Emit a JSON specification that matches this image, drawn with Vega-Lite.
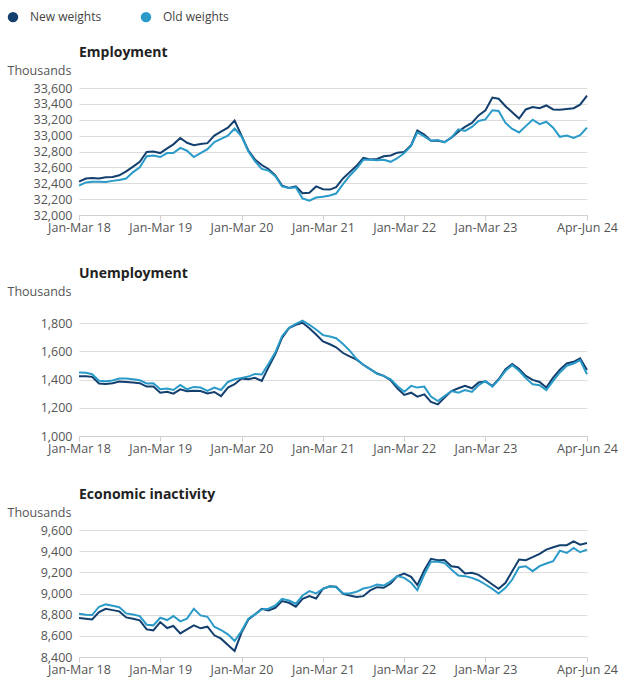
{
  "$schema": "https://vega.github.io/schema/vega-lite/v6.json",
  "padding": {"left": 7, "top": 11, "right": 5, "bottom": 5},
  "datasets": {
    "employment": [
      {"date":"2018-01-01","New weights":32420,"Old weights":32370},
      {"date":"2018-02-01","New weights":32460,"Old weights":32410},
      {"date":"2018-03-01","New weights":32465,"Old weights":32420},
      {"date":"2018-04-01","New weights":32460,"Old weights":32420},
      {"date":"2018-05-01","New weights":32475,"Old weights":32415},
      {"date":"2018-06-01","New weights":32480,"Old weights":32430},
      {"date":"2018-07-01","New weights":32500,"Old weights":32440},
      {"date":"2018-08-01","New weights":32550,"Old weights":32460},
      {"date":"2018-09-01","New weights":32610,"Old weights":32540},
      {"date":"2018-10-01","New weights":32670,"Old weights":32600},
      {"date":"2018-11-01","New weights":32795,"Old weights":32740},
      {"date":"2018-12-01","New weights":32800,"Old weights":32750},
      {"date":"2019-01-01","New weights":32780,"Old weights":32730},
      {"date":"2019-02-01","New weights":32840,"Old weights":32780},
      {"date":"2019-03-01","New weights":32890,"Old weights":32780},
      {"date":"2019-04-01","New weights":32970,"Old weights":32845},
      {"date":"2019-05-01","New weights":32910,"Old weights":32810},
      {"date":"2019-06-01","New weights":32880,"Old weights":32730},
      {"date":"2019-07-01","New weights":32895,"Old weights":32780},
      {"date":"2019-08-01","New weights":32905,"Old weights":32830},
      {"date":"2019-09-01","New weights":33000,"Old weights":32920},
      {"date":"2019-10-01","New weights":33050,"Old weights":32960},
      {"date":"2019-11-01","New weights":33100,"Old weights":33000},
      {"date":"2019-12-01","New weights":33190,"Old weights":33090},
      {"date":"2020-01-01","New weights":33000,"Old weights":32990},
      {"date":"2020-02-01","New weights":32810,"Old weights":32800},
      {"date":"2020-03-01","New weights":32700,"Old weights":32680},
      {"date":"2020-04-01","New weights":32630,"Old weights":32580},
      {"date":"2020-05-01","New weights":32580,"Old weights":32560},
      {"date":"2020-06-01","New weights":32500,"Old weights":32490},
      {"date":"2020-07-01","New weights":32370,"Old weights":32360},
      {"date":"2020-08-01","New weights":32340,"Old weights":32340},
      {"date":"2020-09-01","New weights":32360,"Old weights":32350},
      {"date":"2020-10-01","New weights":32275,"Old weights":32210},
      {"date":"2020-11-01","New weights":32280,"Old weights":32180},
      {"date":"2020-12-01","New weights":32360,"Old weights":32220},
      {"date":"2021-01-01","New weights":32325,"Old weights":32230},
      {"date":"2021-02-01","New weights":32320,"Old weights":32245},
      {"date":"2021-03-01","New weights":32350,"Old weights":32270},
      {"date":"2021-04-01","New weights":32460,"Old weights":32390},
      {"date":"2021-05-01","New weights":32540,"Old weights":32495},
      {"date":"2021-06-01","New weights":32620,"Old weights":32585},
      {"date":"2021-07-01","New weights":32720,"Old weights":32695},
      {"date":"2021-08-01","New weights":32700,"Old weights":32695},
      {"date":"2021-09-01","New weights":32705,"Old weights":32690},
      {"date":"2021-10-01","New weights":32740,"Old weights":32695},
      {"date":"2021-11-01","New weights":32750,"Old weights":32670},
      {"date":"2021-12-01","New weights":32785,"Old weights":32715},
      {"date":"2022-01-01","New weights":32795,"Old weights":32780},
      {"date":"2022-02-01","New weights":32880,"Old weights":32870},
      {"date":"2022-03-01","New weights":33065,"Old weights":33040},
      {"date":"2022-04-01","New weights":33015,"Old weights":32990},
      {"date":"2022-05-01","New weights":32935,"Old weights":32935},
      {"date":"2022-06-01","New weights":32935,"Old weights":32945},
      {"date":"2022-07-01","New weights":32920,"Old weights":32915},
      {"date":"2022-08-01","New weights":32975,"Old weights":32975},
      {"date":"2022-09-01","New weights":33050,"Old weights":33080},
      {"date":"2022-10-01","New weights":33110,"Old weights":33060},
      {"date":"2022-11-01","New weights":33160,"Old weights":33110},
      {"date":"2022-12-01","New weights":33255,"Old weights":33185},
      {"date":"2023-01-01","New weights":33320,"Old weights":33205},
      {"date":"2023-02-01","New weights":33480,"Old weights":33320},
      {"date":"2023-03-01","New weights":33465,"Old weights":33310},
      {"date":"2023-04-01","New weights":33370,"Old weights":33160},
      {"date":"2023-05-01","New weights":33295,"Old weights":33085},
      {"date":"2023-06-01","New weights":33215,"Old weights":33040},
      {"date":"2023-07-01","New weights":33330,"Old weights":33120},
      {"date":"2023-08-01","New weights":33360,"Old weights":33200},
      {"date":"2023-09-01","New weights":33345,"Old weights":33145},
      {"date":"2023-10-01","New weights":33380,"Old weights":33175},
      {"date":"2023-11-01","New weights":33330,"Old weights":33100},
      {"date":"2023-12-01","New weights":33325,"Old weights":32985},
      {"date":"2024-01-01","New weights":33335,"Old weights":33000},
      {"date":"2024-02-01","New weights":33345,"Old weights":32970},
      {"date":"2024-03-01","New weights":33390,"Old weights":33005},
      {"date":"2024-04-01","New weights":33505,"Old weights":33100}
    ],
    "unemployment": [
      {"date":"2018-01-01","New weights":1424,"Old weights":1450},
      {"date":"2018-02-01","New weights":1424,"Old weights":1448},
      {"date":"2018-03-01","New weights":1419,"Old weights":1438},
      {"date":"2018-04-01","New weights":1372,"Old weights":1391},
      {"date":"2018-05-01","New weights":1369,"Old weights":1388},
      {"date":"2018-06-01","New weights":1374,"Old weights":1393},
      {"date":"2018-07-01","New weights":1386,"Old weights":1407},
      {"date":"2018-08-01","New weights":1383,"Old weights":1407},
      {"date":"2018-09-01","New weights":1379,"Old weights":1402},
      {"date":"2018-10-01","New weights":1374,"Old weights":1395},
      {"date":"2018-11-01","New weights":1350,"Old weights":1372},
      {"date":"2018-12-01","New weights":1350,"Old weights":1374},
      {"date":"2019-01-01","New weights":1307,"Old weights":1331},
      {"date":"2019-02-01","New weights":1314,"Old weights":1336},
      {"date":"2019-03-01","New weights":1300,"Old weights":1326},
      {"date":"2019-04-01","New weights":1331,"Old weights":1362},
      {"date":"2019-05-01","New weights":1317,"Old weights":1331},
      {"date":"2019-06-01","New weights":1321,"Old weights":1348},
      {"date":"2019-07-01","New weights":1319,"Old weights":1343},
      {"date":"2019-08-01","New weights":1302,"Old weights":1319},
      {"date":"2019-09-01","New weights":1312,"Old weights":1343},
      {"date":"2019-10-01","New weights":1283,"Old weights":1326},
      {"date":"2019-11-01","New weights":1343,"Old weights":1383},
      {"date":"2019-12-01","New weights":1367,"Old weights":1402},
      {"date":"2020-01-01","New weights":1407,"Old weights":1412},
      {"date":"2020-02-01","New weights":1403,"Old weights":1421},
      {"date":"2020-03-01","New weights":1412,"Old weights":1440},
      {"date":"2020-04-01","New weights":1390,"Old weights":1436},
      {"date":"2020-05-01","New weights":1486,"Old weights":1510},
      {"date":"2020-06-01","New weights":1581,"Old weights":1593},
      {"date":"2020-07-01","New weights":1695,"Old weights":1707},
      {"date":"2020-08-01","New weights":1764,"Old weights":1767},
      {"date":"2020-09-01","New weights":1788,"Old weights":1795},
      {"date":"2020-10-01","New weights":1802,"Old weights":1817},
      {"date":"2020-11-01","New weights":1764,"Old weights":1788},
      {"date":"2020-12-01","New weights":1719,"Old weights":1755},
      {"date":"2021-01-01","New weights":1670,"Old weights":1715},
      {"date":"2021-02-01","New weights":1650,"Old weights":1705},
      {"date":"2021-03-01","New weights":1629,"Old weights":1693},
      {"date":"2021-04-01","New weights":1588,"Old weights":1652},
      {"date":"2021-05-01","New weights":1564,"Old weights":1605},
      {"date":"2021-06-01","New weights":1541,"Old weights":1545},
      {"date":"2021-07-01","New weights":1505,"Old weights":1505},
      {"date":"2021-08-01","New weights":1474,"Old weights":1474},
      {"date":"2021-09-01","New weights":1443,"Old weights":1440},
      {"date":"2021-10-01","New weights":1426,"Old weights":1426},
      {"date":"2021-11-01","New weights":1395,"Old weights":1402},
      {"date":"2021-12-01","New weights":1338,"Old weights":1355},
      {"date":"2022-01-01","New weights":1291,"Old weights":1314},
      {"date":"2022-02-01","New weights":1307,"Old weights":1355},
      {"date":"2022-03-01","New weights":1279,"Old weights":1343},
      {"date":"2022-04-01","New weights":1295,"Old weights":1350},
      {"date":"2022-05-01","New weights":1241,"Old weights":1279},
      {"date":"2022-06-01","New weights":1224,"Old weights":1248},
      {"date":"2022-07-01","New weights":1272,"Old weights":1283},
      {"date":"2022-08-01","New weights":1319,"Old weights":1319},
      {"date":"2022-09-01","New weights":1338,"Old weights":1307},
      {"date":"2022-10-01","New weights":1355,"Old weights":1326},
      {"date":"2022-11-01","New weights":1338,"Old weights":1312},
      {"date":"2022-12-01","New weights":1379,"Old weights":1360},
      {"date":"2023-01-01","New weights":1386,"Old weights":1390},
      {"date":"2023-02-01","New weights":1355,"Old weights":1350},
      {"date":"2023-03-01","New weights":1402,"Old weights":1398},
      {"date":"2023-04-01","New weights":1474,"Old weights":1462},
      {"date":"2023-05-01","New weights":1510,"Old weights":1502},
      {"date":"2023-06-01","New weights":1474,"Old weights":1462},
      {"date":"2023-07-01","New weights":1426,"Old weights":1410},
      {"date":"2023-08-01","New weights":1398,"Old weights":1367},
      {"date":"2023-09-01","New weights":1383,"Old weights":1360},
      {"date":"2023-10-01","New weights":1343,"Old weights":1326},
      {"date":"2023-11-01","New weights":1414,"Old weights":1390},
      {"date":"2023-12-01","New weights":1469,"Old weights":1450},
      {"date":"2024-01-01","New weights":1514,"Old weights":1498},
      {"date":"2024-02-01","New weights":1526,"Old weights":1514},
      {"date":"2024-03-01","New weights":1550,"Old weights":1538},
      {"date":"2024-04-01","New weights":1467,"Old weights":1438}
    ],
    "inactivity": [
      {"date":"2018-01-01","New weights":8768,"Old weights":8809},
      {"date":"2018-02-01","New weights":8762,"Old weights":8799},
      {"date":"2018-03-01","New weights":8755,"Old weights":8796},
      {"date":"2018-04-01","New weights":8824,"Old weights":8875},
      {"date":"2018-05-01","New weights":8856,"Old weights":8897},
      {"date":"2018-06-01","New weights":8843,"Old weights":8884},
      {"date":"2018-07-01","New weights":8831,"Old weights":8871},
      {"date":"2018-08-01","New weights":8774,"Old weights":8812},
      {"date":"2018-09-01","New weights":8762,"Old weights":8802},
      {"date":"2018-10-01","New weights":8746,"Old weights":8787},
      {"date":"2018-11-01","New weights":8661,"Old weights":8705},
      {"date":"2018-12-01","New weights":8652,"Old weights":8699},
      {"date":"2019-01-01","New weights":8730,"Old weights":8771},
      {"date":"2019-02-01","New weights":8674,"Old weights":8749},
      {"date":"2019-03-01","New weights":8693,"Old weights":8787},
      {"date":"2019-04-01","New weights":8623,"Old weights":8737},
      {"date":"2019-05-01","New weights":8661,"Old weights":8762},
      {"date":"2019-06-01","New weights":8699,"Old weights":8856},
      {"date":"2019-07-01","New weights":8671,"Old weights":8793},
      {"date":"2019-08-01","New weights":8686,"Old weights":8780},
      {"date":"2019-09-01","New weights":8605,"Old weights":8686},
      {"date":"2019-10-01","New weights":8573,"Old weights":8655},
      {"date":"2019-11-01","New weights":8514,"Old weights":8614},
      {"date":"2019-12-01","New weights":8457,"Old weights":8551},
      {"date":"2020-01-01","New weights":8630,"Old weights":8645},
      {"date":"2020-02-01","New weights":8755,"Old weights":8762},
      {"date":"2020-03-01","New weights":8802,"Old weights":8802},
      {"date":"2020-04-01","New weights":8856,"Old weights":8850},
      {"date":"2020-05-01","New weights":8840,"Old weights":8856},
      {"date":"2020-06-01","New weights":8865,"Old weights":8887},
      {"date":"2020-07-01","New weights":8928,"Old weights":8950},
      {"date":"2020-08-01","New weights":8912,"Old weights":8934},
      {"date":"2020-09-01","New weights":8875,"Old weights":8903},
      {"date":"2020-10-01","New weights":8950,"Old weights":8981},
      {"date":"2020-11-01","New weights":8975,"Old weights":9022},
      {"date":"2020-12-01","New weights":8953,"Old weights":9000},
      {"date":"2021-01-01","New weights":9045,"Old weights":9045},
      {"date":"2021-02-01","New weights":9069,"Old weights":9069},
      {"date":"2021-03-01","New weights":9063,"Old weights":9060},
      {"date":"2021-04-01","New weights":8997,"Old weights":9000},
      {"date":"2021-05-01","New weights":8981,"Old weights":9000},
      {"date":"2021-06-01","New weights":8966,"Old weights":9016},
      {"date":"2021-07-01","New weights":8975,"Old weights":9047},
      {"date":"2021-08-01","New weights":9029,"Old weights":9060},
      {"date":"2021-09-01","New weights":9060,"Old weights":9085},
      {"date":"2021-10-01","New weights":9054,"Old weights":9075},
      {"date":"2021-11-01","New weights":9094,"Old weights":9116},
      {"date":"2021-12-01","New weights":9164,"Old weights":9164},
      {"date":"2022-01-01","New weights":9189,"Old weights":9148},
      {"date":"2022-02-01","New weights":9157,"Old weights":9101},
      {"date":"2022-03-01","New weights":9079,"Old weights":9032},
      {"date":"2022-04-01","New weights":9220,"Old weights":9179},
      {"date":"2022-05-01","New weights":9327,"Old weights":9299},
      {"date":"2022-06-01","New weights":9314,"Old weights":9299},
      {"date":"2022-07-01","New weights":9317,"Old weights":9289},
      {"date":"2022-08-01","New weights":9258,"Old weights":9226},
      {"date":"2022-09-01","New weights":9248,"Old weights":9170},
      {"date":"2022-10-01","New weights":9189,"Old weights":9164},
      {"date":"2022-11-01","New weights":9195,"Old weights":9148},
      {"date":"2022-12-01","New weights":9176,"Old weights":9123},
      {"date":"2023-01-01","New weights":9132,"Old weights":9085},
      {"date":"2023-02-01","New weights":9085,"Old weights":9044},
      {"date":"2023-03-01","New weights":9044,"Old weights":9000},
      {"date":"2023-04-01","New weights":9101,"Old weights":9053},
      {"date":"2023-05-01","New weights":9211,"Old weights":9132},
      {"date":"2023-06-01","New weights":9321,"Old weights":9248},
      {"date":"2023-07-01","New weights":9314,"Old weights":9258},
      {"date":"2023-08-01","New weights":9343,"Old weights":9211},
      {"date":"2023-09-01","New weights":9374,"Old weights":9258},
      {"date":"2023-10-01","New weights":9415,"Old weights":9283},
      {"date":"2023-11-01","New weights":9437,"Old weights":9305},
      {"date":"2023-12-01","New weights":9456,"Old weights":9405},
      {"date":"2024-01-01","New weights":9456,"Old weights":9383},
      {"date":"2024-02-01","New weights":9493,"Old weights":9430},
      {"date":"2024-03-01","New weights":9462,"Old weights":9390},
      {"date":"2024-04-01","New weights":9478,"Old weights":9415}
    ]
  },
  "vconcat": [
    {
      "title": {"text": "Employment"},
      "width": 508, "height": 127,
      "data": {"name": "employment"},
      "transform": [{"fold": ["New weights", "Old weights"], "as": ["series", "value"]}],
      "mark": {"type": "line", "strokeWidth": 2},
      "encoding": {
        "x": {"field": "date", "type": "temporal", "scale": {"type": "utc"}, "axis": {"values": [{"year":2018,"month":1,"date":1,"utc":true},{"year":2019,"month":1,"date":1,"utc":true},{"year":2020,"month":1,"date":1,"utc":true},{"year":2021,"month":1,"date":1,"utc":true},{"year":2022,"month":1,"date":1,"utc":true},{"year":2023,"month":1,"date":1,"utc":true},{"year":2024,"month":4,"date":1,"utc":true}]}},
        "y": {"field": "value", "type": "quantitative", "scale": {"domain": [32000, 33600], "nice": false, "zero": false}, "axis": {"title": "Thousands", "values": [32000,32200,32400,32600,32800,33000,33200,33400,33600]}},
        "color": {"field": "series", "type": "nominal", "scale": {"domain": ["New weights", "Old weights"], "range": ["#133f6e", "#2a9ac8"]}, "legend": {"orient": "none", "legendX": -72, "legendY": -77, "direction": "horizontal", "title": null, "symbolType": "circle", "symbolSize": 30, "symbolStrokeWidth": 5, "labelFontSize": 12, "labelColor": "#444", "columnPadding": 31, "labelOffset": 11}}
      }
    },
    {
      "title": {"text": "Unemployment"},
      "width": 508, "height": 127,
      "data": {"name": "unemployment"},
      "transform": [{"fold": ["New weights", "Old weights"], "as": ["series", "value"]}],
      "mark": {"type": "line", "strokeWidth": 2},
      "encoding": {
        "x": {"field": "date", "type": "temporal", "scale": {"type": "utc"}, "axis": {"values": [{"year":2018,"month":1,"date":1,"utc":true},{"year":2019,"month":1,"date":1,"utc":true},{"year":2020,"month":1,"date":1,"utc":true},{"year":2021,"month":1,"date":1,"utc":true},{"year":2022,"month":1,"date":1,"utc":true},{"year":2023,"month":1,"date":1,"utc":true},{"year":2024,"month":4,"date":1,"utc":true}]}},
        "y": {"field": "value", "type": "quantitative", "scale": {"domain": [1000, 1900], "nice": false, "zero": false}, "axis": {"title": "Thousands", "values": [1000,1200,1400,1600,1800]}},
        "color": {"field": "series", "type": "nominal", "legend": null}
      }
    },
    {
      "title": {"text": "Economic inactivity"},
      "width": 508, "height": 127,
      "data": {"name": "inactivity"},
      "transform": [{"fold": ["New weights", "Old weights"], "as": ["series", "value"]}],
      "mark": {"type": "line", "strokeWidth": 2},
      "encoding": {
        "x": {"field": "date", "type": "temporal", "scale": {"type": "utc"}, "axis": {"values": [{"year":2018,"month":1,"date":1,"utc":true},{"year":2019,"month":1,"date":1,"utc":true},{"year":2020,"month":1,"date":1,"utc":true},{"year":2021,"month":1,"date":1,"utc":true},{"year":2022,"month":1,"date":1,"utc":true},{"year":2023,"month":1,"date":1,"utc":true},{"year":2024,"month":4,"date":1,"utc":true}]}},
        "y": {"field": "value", "type": "quantitative", "scale": {"domain": [8400, 9600], "nice": false, "zero": false}, "axis": {"title": "Thousands", "values": [8400,8600,8800,9000,9200,9400,9600]}},
        "color": {"field": "series", "type": "nominal", "legend": null}
      }
    }
  ],
  "resolve": {"scale": {"x": "independent", "y": "independent"}},
  "spacing": 33,
  "config": {
    "font": "Open Sans",
    "view": {"stroke": null},
    "title": {"anchor": "start", "frame": "group", "fontSize": 14, "fontWeight": "bold", "color": "#222", "offset": 4},
    "axisX": {"title": null, "grid": false, "domain": true, "domainColor": "#d0d0d0", "ticks": true, "tickColor": "#d0d0d0", "tickSize": 5, "labelFontSize": 12.5, "labelColor": "#555", "labelPadding": 1, "labelExpr": "(utcFormat(datum.value, '%m') == '01' ? 'Jan-Mar ' : 'Apr-Jun ') + utcFormat(datum.value, '%y')", "labelFlush": false, "labelOverlap": false},
    "axisY": {"titleAngle": 0, "titleAlign": "left", "titleBaseline": "middle", "titleX": -72, "titleY": -18, "titleFontWeight": "normal", "titleFontSize": 12.5, "titleColor": "#555", "grid": true, "gridColor": "#dcdcdc", "domain": false, "ticks": false, "labelFontSize": 12.5, "labelColor": "#555", "labelPadding": 7, "labelOverlap": false, "format": ",d"}
  }
}
